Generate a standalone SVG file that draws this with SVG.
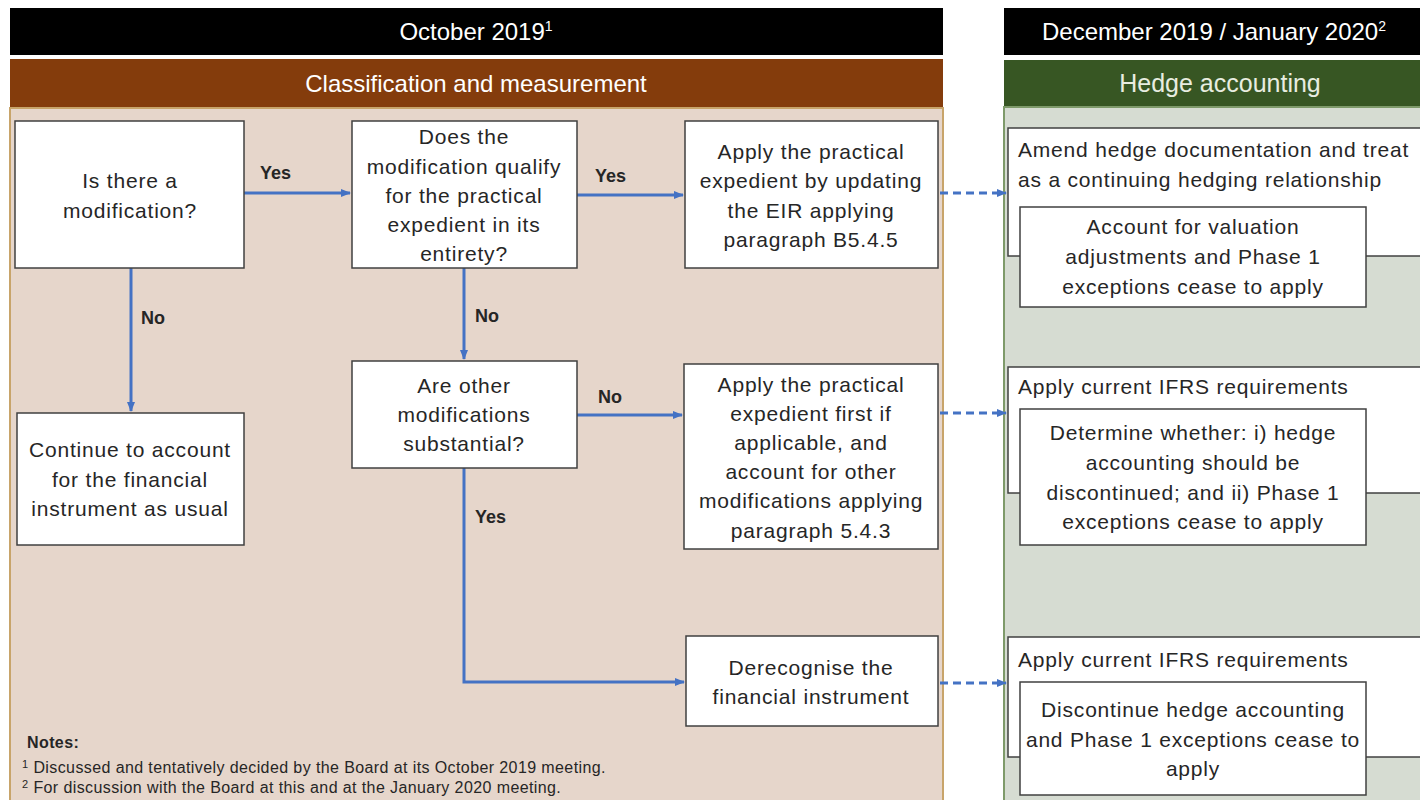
<svg xmlns="http://www.w3.org/2000/svg" width="1420" height="800" viewBox="0 0 1420 800">
<defs>
<marker id="ah" viewBox="0 0 10 10" refX="9" refY="5" markerWidth="10" markerHeight="10" markerUnits="userSpaceOnUse" orient="auto"><path d="M0,1 L10,5 L0,9 z" fill="#4472C4"/></marker>
<style>
.t{font-family:"Liberation Sans",Arial,sans-serif;font-size:21px;letter-spacing:0.8px;fill:#262626;text-anchor:middle}
.l{font-family:"Liberation Sans",Arial,sans-serif;font-size:21px;letter-spacing:0.8px;fill:#262626}
.lab{font-family:"Liberation Sans",Arial,sans-serif;font-size:18px;font-weight:bold;fill:#262626}
.hd{font-family:"Liberation Sans",Arial,sans-serif;font-size:24px;fill:#ffffff;text-anchor:middle}
.hd2{font-family:"Liberation Sans",Arial,sans-serif;font-size:25px;fill:#E8EDE0;text-anchor:middle}
.box{fill:#ffffff;stroke:#404040;stroke-width:1.5}
.c{fill:none;stroke:#4472C4;stroke-width:3;marker-end:url(#ah)}
.d{fill:none;stroke:#4472C4;stroke-width:3;stroke-dasharray:8,5;marker-end:url(#ah)}
.n{font-family:"Liberation Sans",Arial,sans-serif;font-size:16px;letter-spacing:0.4px;fill:#262626}
</style>
</defs>
<rect width="1420" height="800" fill="#ffffff"/>
<g id="left-panel">
<rect x="10" y="8" width="933" height="47" fill="#000000"/>
<text class="hd" x="476" y="40">October 2019<tspan font-size="14" dy="-9">1</tspan></text>
<rect x="10" y="59" width="933" height="49" fill="#843C0C"/>
<text class="hd" x="476" y="92" font-size="25">Classification and measurement</text>
<rect x="10" y="108" width="933" height="700" fill="#E6D6CB" stroke="#C8A46A" stroke-width="2"/>
</g>
<g id="right-panel">
<rect x="1004" y="8" width="420" height="47" fill="#000000"/>
<text class="hd" x="1214" y="40">December 2019 / January 2020<tspan font-size="14" dy="-9">2</tspan></text>
<rect x="1004" y="60" width="420" height="47" fill="#375623"/>
<text class="hd2" x="1220" y="92">Hedge accounting</text>
<rect x="1004" y="107" width="420" height="700" fill="#D6DCD2" stroke="#7E9A6A" stroke-width="2"/>
</g>
<g id="connectors">
<line class="c" x1="244" y1="193" x2="350" y2="193"/>
<line class="c" x1="577" y1="195" x2="683" y2="195"/>
<line class="c" x1="131" y1="268" x2="131" y2="411"/>
<line class="c" x1="464" y1="268" x2="464" y2="359"/>
<line class="c" x1="577" y1="415" x2="682" y2="415"/>
<polyline class="c" points="464,468 464,682 684,682"/>
<line class="d" x1="940" y1="193" x2="1006" y2="193"/>
<line class="d" x1="940" y1="413" x2="1006" y2="413"/>
<line class="d" x1="940" y1="683" x2="1006" y2="683"/>
<text class="lab" x="260" y="179">Yes</text>
<text class="lab" x="595" y="182">Yes</text>
<text class="lab" x="141" y="324">No</text>
<text class="lab" x="475" y="322">No</text>
<text class="lab" x="598" y="403">No</text>
<text class="lab" x="475" y="523">Yes</text>
</g>
<g id="n-modification">
<rect class="box" x="15" y="121" width="229" height="147"/>
<text class="t" x="130" y="188">Is there a</text>
<text class="t" x="130" y="218">modification?</text>
</g>
<g id="n-qualify">
<rect class="box" x="352" y="121" width="225" height="147"/>
<text class="t" x="464" y="144">Does the</text>
<text class="t" x="464" y="174">modification qualify</text>
<text class="t" x="464" y="203">for the practical</text>
<text class="t" x="464" y="232">expedient in its</text>
<text class="t" x="464" y="261">entirety?</text>
</g>
<g id="n-apply-eir">
<rect class="box" x="685" y="121" width="253" height="147"/>
<text class="t" x="811" y="159">Apply the practical</text>
<text class="t" x="811" y="188">expedient by updating</text>
<text class="t" x="811" y="218">the EIR applying</text>
<text class="t" x="811" y="247">paragraph B5.4.5</text>
</g>
<g id="n-continue">
<rect class="box" x="17" y="413" width="227" height="132"/>
<text class="t" x="130" y="457">Continue to account</text>
<text class="t" x="130" y="487">for the financial</text>
<text class="t" x="130" y="516">instrument as usual</text>
</g>
<g id="n-substantial">
<rect class="box" x="352" y="361" width="225" height="107"/>
<text class="t" x="464" y="393">Are other</text>
<text class="t" x="464" y="422">modifications</text>
<text class="t" x="464" y="451">substantial?</text>
</g>
<g id="n-apply-first">
<rect class="box" x="684" y="364" width="254" height="185"/>
<text class="t" x="811" y="392">Apply the practical</text>
<text class="t" x="811" y="421">expedient first if</text>
<text class="t" x="811" y="450">applicable, and</text>
<text class="t" x="811" y="479">account for other</text>
<text class="t" x="811" y="508">modifications applying</text>
<text class="t" x="811" y="538">paragraph 5.4.3</text>
</g>
<g id="n-derecognise">
<rect class="box" x="686" y="636" width="252" height="90"/>
<text class="t" x="811" y="675">Derecognise the</text>
<text class="t" x="811" y="704">financial instrument</text>
</g>
<g id="n-amend">
<rect class="box" x="1008" y="128" width="420" height="128"/>
<text class="l" x="1018" y="157">Amend hedge documentation and treat</text>
<text class="l" x="1018" y="187">as a continuing hedging relationship</text>
<rect class="box" x="1020" y="207" width="346" height="100"/>
<text class="t" x="1193" y="234">Account for valuation</text>
<text class="t" x="1193" y="264">adjustments and Phase 1</text>
<text class="t" x="1193" y="294">exceptions cease to apply</text>
</g>
<g id="n-current-1">
<rect class="box" x="1008" y="367" width="420" height="126"/>
<text class="l" x="1018" y="394">Apply current IFRS requirements</text>
<rect class="box" x="1020" y="409" width="346" height="136"/>
<text class="t" x="1193" y="440">Determine whether: i) hedge</text>
<text class="t" x="1193" y="470">accounting should be</text>
<text class="t" x="1193" y="500">discontinued; and ii) Phase 1</text>
<text class="t" x="1193" y="529">exceptions cease to apply</text>
</g>
<g id="n-current-2">
<rect class="box" x="1008" y="637" width="420" height="120"/>
<text class="l" x="1018" y="667">Apply current IFRS requirements</text>
<rect class="box" x="1020" y="682" width="346" height="113"/>
<text class="t" x="1193" y="717">Discontinue hedge accounting</text>
<text class="t" x="1193" y="747">and Phase 1 exceptions cease to</text>
<text class="t" x="1193" y="776">apply</text>
</g>
<g id="notes">
<text class="n" x="27" y="748" font-weight="bold">Notes:</text>
<text class="n" x="22" y="773"><tspan font-size="11" dy="-5">1</tspan><tspan dy="5"> Discussed and tentatively decided by the Board at its October 2019 meeting.</tspan></text>
<text class="n" x="22" y="793"><tspan font-size="11" dy="-5">2</tspan><tspan dy="5"> For discussion with the Board at this and at the January 2020 meeting.</tspan></text>
</g>
</svg>
